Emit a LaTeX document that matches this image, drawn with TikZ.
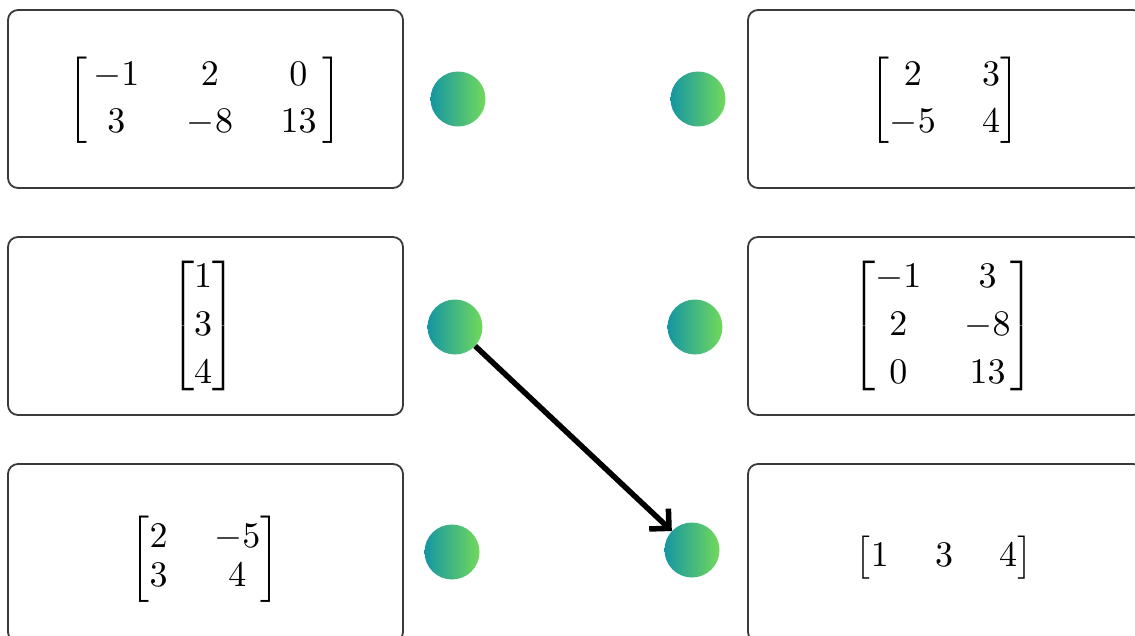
\documentclass[tikz,border=0pt]{standalone}
\usepackage{amsmath}
\usetikzlibrary{arrows.meta}
\definecolor{dotL}{HTML}{1596A2}
\definecolor{dotR}{HTML}{72D95C}
\definecolor{cardline}{HTML}{3A3A3A}
\tikzset{
  card/.style={draw=cardline, line width=1.8pt, rounded corners=10pt, fill=white,
    minimum width=395pt, minimum height=178pt, inner sep=0pt},
  mtx/.style={inner sep=0pt, scale=3.6, font=\fontsize{10}{12}\selectfont, text=black},
  dot/.style={circle, minimum size=55pt, inner sep=0pt, left color=dotL, right color=dotR, draw=none},
  arr/.style={line width=5.5pt, black, -{Straight Barb[length=14pt,width=28pt]}}
}
\begin{document}
\begin{tikzpicture}[x=1pt,y=-1pt]
\useasboundingbox (0,0) rectangle (1135,635);
\clip (0,0) rectangle (1135,635);
\fill[white] (0,0) rectangle (1135,635);
% cards
\node[card] (c1l) at (205.5,99) {};
\node[card] (c2l) at (205.5,326) {};
\node[card] (c3l) at (205.5,553) {};
\node[card] (c1r) at (945.5,99) {};
\node[card] (c2r) at (945.5,326) {};
\node[card] (c3r) at (945.5,553) {};
% matrices
\node[mtx] (m1l) at (205,100) {\setlength\arraycolsep{6.6pt}\renewcommand\arraystretch{1.09}$\left[\,\begin{matrix}-1 & 2 & 0\\ 3 & -8 & 13\end{matrix}\,\right]$};
\node[mtx] (m2l) at (203,326) {\renewcommand\arraystretch{1.1}$\begin{bmatrix}1\\ 3\\ 4\end{bmatrix}$};
\node[mtx] (m3l) at (205,559) {\setlength\arraycolsep{6.5pt}\renewcommand\arraystretch{0.9}$\begin{bmatrix}2 & -5\\ 3 & 4\end{bmatrix}$};
\node[mtx] (m1r) at (945,100) {\setlength\arraycolsep{6.4pt}\renewcommand\arraystretch{1.09}$\begin{bmatrix}2 & 3\\ -5 & 4\end{bmatrix}$};
\node[mtx] (m2r) at (943,326) {\setlength\arraycolsep{6pt}\renewcommand\arraystretch{1.1}$\begin{bmatrix}-1 & 3\\ 2 & -8\\ 0 & 13\end{bmatrix}$};
\node[mtx] (m3r) at (944,558) {\setlength\arraycolsep{6.4pt}$\begin{bmatrix}1 & 3 & 4\end{bmatrix}$};
% dots
\node[dot] (d1l) at (458,99) {};
\node[dot] (d1r) at (698,99) {};
\node[dot] (d2l) at (455,327) {};
\node[dot] (d2r) at (695,327) {};
\node[dot] (d3l) at (452,552) {};
\node[dot] (d3r) at (692,550) {};
% connector
\draw[arr] (d2l) -- (d3r);
\end{tikzpicture}
\end{document}
